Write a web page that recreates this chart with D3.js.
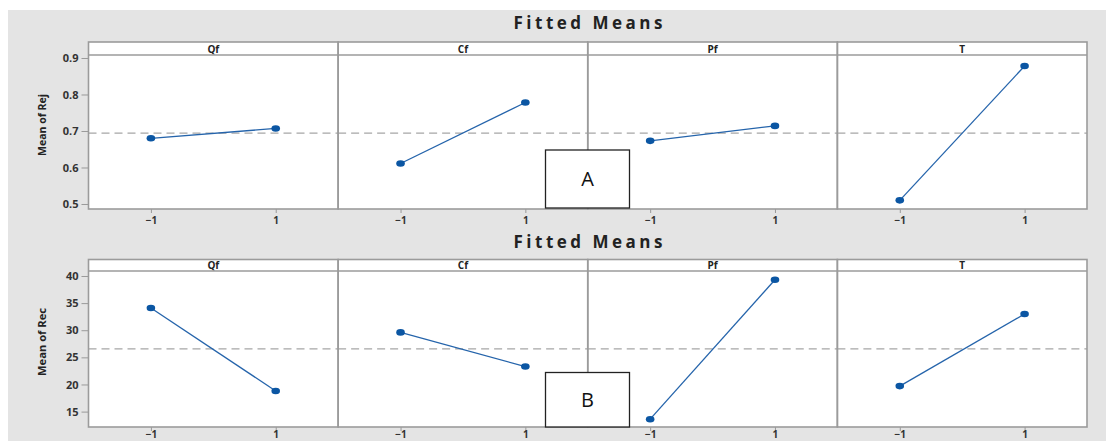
<!DOCTYPE html>
<html lang="en">
<head>
<meta charset="utf-8">
<script src="https://d3js.org/d3.v7.min.js"></script>
<title>Fitted Means</title>
<style>
  body { margin:0; background:#fff; }
  svg text { font-family: "Open Sans", "DejaVu Sans", sans-serif; }
</style>
</head>
<body>
<svg id="chart"></svg>
<script>
// data
const factors = ["Qf", "Cf", "Pf", "T"];
const levels = [-1, 1];
const rejMeans = [[0.680, 0.707], [0.611, 0.778], [0.673, 0.714], [0.510, 0.878]];
const recMeans = [[34.1, 18.8], [29.6, 23.3], [13.6, 39.3], [19.7, 33.0]];
const rejGrand = 0.694;
const recGrand = 26.55;
const rejTicks = [0.5, 0.6, 0.7, 0.8, 0.9];
const recTicks = [15, 20, 25, 30, 35, 40];

const W = 1107, H = 441;
const svg = d3.select("#chart").attr("width", W).attr("height", H);

svg.append("rect").attr("x", 8).attr("y", 10).attr("width", 1098).attr("height", 431).attr("fill", "#e4e4e4");

const left = 88.5, right = 1087;
const pw = (right - left) / factors.length;

function block(cfg) {
  const g = svg.append("g");
  const y = d3.scaleLinear().domain(cfg.domain).range([cfg.bottom, cfg.plotTop]);

  g.append("text").attr("x", 588).attr("y", cfg.titleY).attr("text-anchor", "middle")
    .attr("font-size", 17).attr("font-weight", "bold").attr("fill", "#222")
    .attr("textLength", 149).attr("lengthAdjust", "spacing").text("Fitted Means");

  // white panel area
  g.append("rect").attr("x", left).attr("y", cfg.stripTop).attr("width", right - left)
    .attr("height", cfg.bottom - cfg.stripTop).attr("fill", "#fff");

  factors.forEach((f, i) => {
    const x0 = left + i * pw;
    const x = d3.scaleLinear().domain([-2, 2]).range([x0, x0 + pw]);
    const pg = g.append("g");

    pg.append("text").attr("x", x0 + pw / 2).attr("y", cfg.plotTop - 2.5).attr("text-anchor", "middle")
      .attr("font-size", 10).attr("font-weight", "bold").attr("fill", "#222").text(f);

    // mean line
    pg.append("line").attr("x1", x0).attr("x2", x0 + pw).attr("y1", y(cfg.grand)).attr("y2", y(cfg.grand))
      .attr("stroke", "#a6a6a6").attr("stroke-width", 1.3).attr("stroke-dasharray", "8,5");

    const pts = levels.map((l, j) => [x(l), y(cfg.values[i][j])]);
    pg.append("path").attr("d", d3.line()(pts)).attr("fill", "none")
      .attr("stroke", "#2564ab").attr("stroke-width", 1.3);
    pg.selectAll("ellipse").data(pts).join("ellipse")
      .attr("cx", d => d[0]).attr("cy", d => d[1]).attr("rx", 4.3).attr("ry", 3.3)
      .attr("fill", "#0b56a3");

    const ax = pg.append("g").attr("transform", `translate(0,${cfg.bottom})`)
      .call(d3.axisBottom(x).tickValues(levels).tickSize(4).tickPadding(cfg.tickPad).tickFormat(d3.format("d")));
    ax.select(".domain").remove();
    ax.selectAll("line").attr("stroke", "#999");
    ax.selectAll("text").attr("font-size", 10).attr("font-weight", "bold").attr("fill", "#333");

    // panel frame
    pg.append("rect").attr("x", x0).attr("y", cfg.stripTop).attr("width", pw).attr("height", cfg.bottom - cfg.stripTop)
      .attr("fill", "none").attr("stroke", "#9b9b9b").attr("stroke-width", 1.6);
    pg.append("line").attr("x1", x0).attr("x2", x0 + pw).attr("y1", cfg.plotTop).attr("y2", cfg.plotTop)
      .attr("stroke", "#9b9b9b").attr("stroke-width", 1.6);
  });

  const ay = g.append("g").attr("transform", `translate(${left},0)`)
    .call(d3.axisLeft(y).tickValues(cfg.ticks).tickSize(7).tickPadding(3).tickFormat(cfg.fmt));
  ay.select(".domain").remove();
  ay.selectAll("line").attr("stroke", "#999");
  ay.selectAll("text").attr("font-size", 11).attr("font-weight", "bold").attr("fill", "#333");

  g.append("text").attr("transform", `translate(46,${cfg.labelY}) rotate(-90)`).attr("text-anchor", "middle")
    .attr("font-size", 10).attr("font-weight", "bold").attr("fill", "#222")
    .attr("textLength", cfg.labelLen).attr("lengthAdjust", "spacingAndGlyphs").text(cfg.label);

  // annotation box
  g.append("rect").attr("x", 545.5).attr("y", cfg.boxY).attr("width", 84).attr("height", cfg.boxH)
    .attr("fill", "#fff").attr("stroke", "#222").attr("stroke-width", 1.3);
  g.append("text").attr("x", 587.5).attr("y", cfg.boxY + cfg.boxH / 2 + 7).attr("text-anchor", "middle")
    .attr("font-size", 20).attr("fill", "#111").text(cfg.tag);
}

block({
  titleY: 29, stripTop: 42, plotTop: 55, bottom: 209,
  domain: [0.4863, 0.9082], values: rejMeans, grand: rejGrand,
  ticks: rejTicks, fmt: d3.format(".1f"), label: "Mean of Rej", labelY: 125, labelLen: 62,
  tickPad: 4, boxY: 150, boxH: 58, tag: "A"
});

block({
  titleY: 247.5, stripTop: 259.5, plotTop: 271, bottom: 427,
  domain: [12.16, 40.92], values: recMeans, grand: recGrand,
  ticks: recTicks, fmt: d3.format("d"), label: "Mean of Rec", labelY: 342, labelLen: 68,
  tickPad: 0, boxY: 372.5, boxH: 54.5, tag: "B"
});
</script>
</body>
</html>
